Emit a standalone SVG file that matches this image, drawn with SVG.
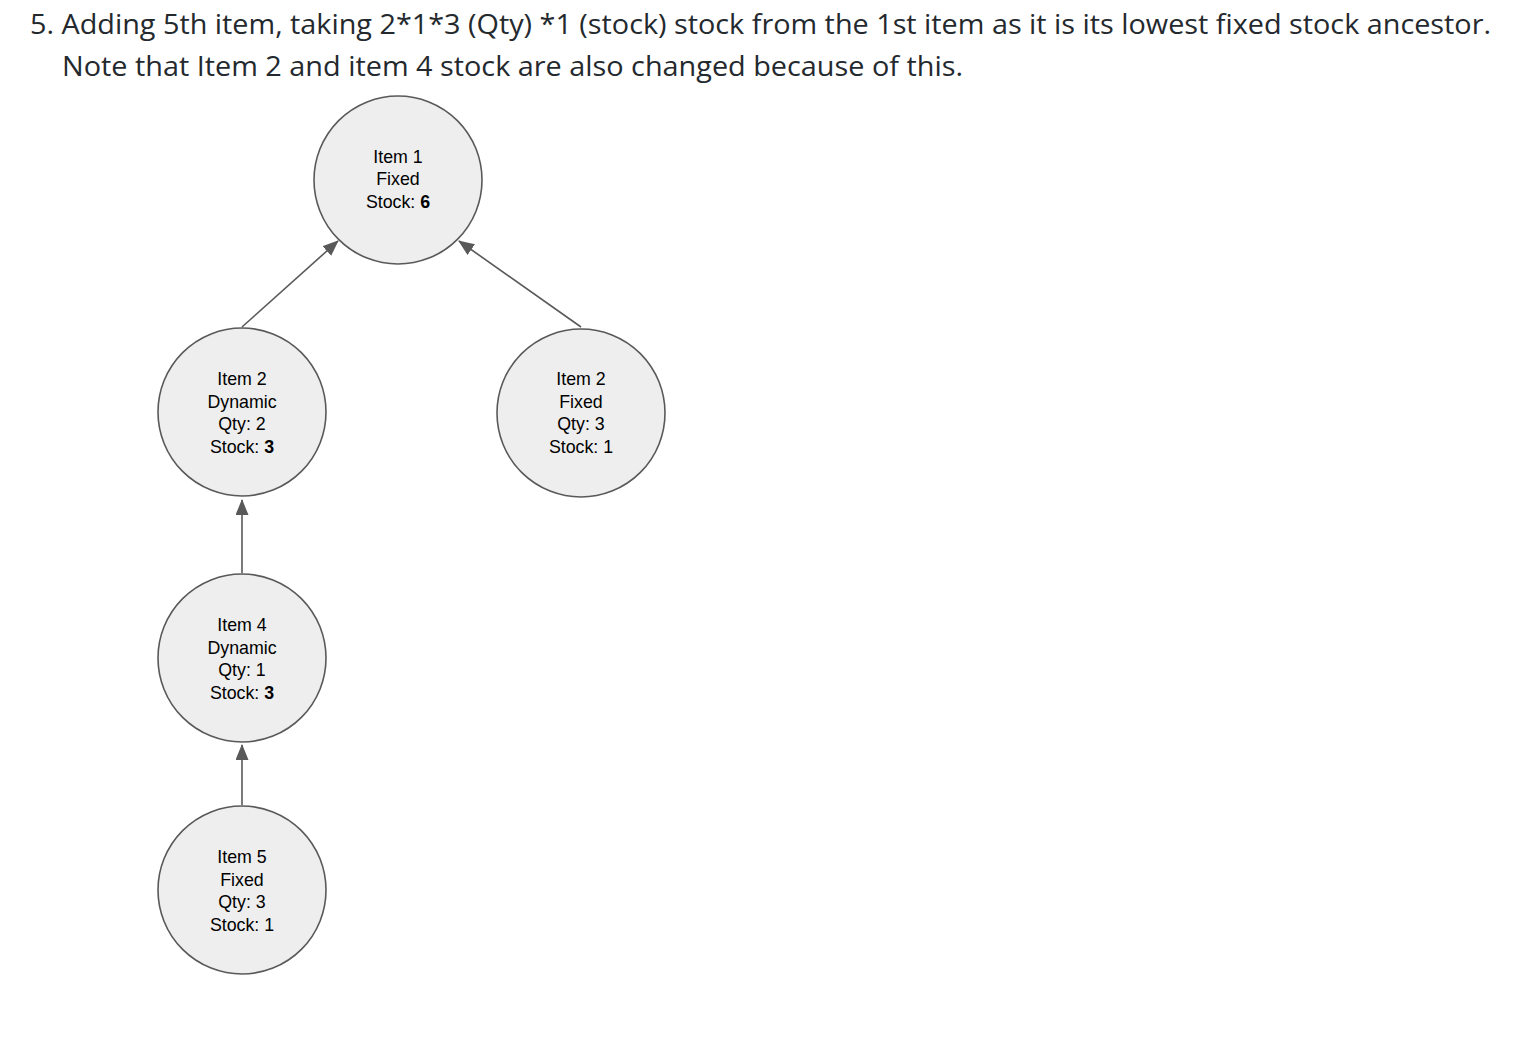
<svg xmlns="http://www.w3.org/2000/svg" width="1524" height="1052" viewBox="0 0 1524 1052">
<style>
.title{font-family:"Open Sans",sans-serif;font-size:27px;fill:#24292e}
.node circle{fill:#eeeeee;stroke:#595959;stroke-width:1.6}
.node text{font-family:"Liberation Sans",Arial,sans-serif;font-size:17.8px;fill:#000;text-anchor:middle}
.b{font-weight:bold}
.edge{stroke:#595959;stroke-width:1.6;fill:none;marker-end:url(#arr)}
</style>
<defs>
<marker id="arr" viewBox="0 0 16 13" refX="15" refY="6.5" markerWidth="16" markerHeight="13" markerUnits="userSpaceOnUse" orient="auto">
<path d="M0,0 L16,6.5 L0,13 Z" fill="#595959"/>
</marker>
</defs>
<rect width="1524" height="1052" fill="#fff"/>
<text class="title" x="30" y="34" textLength="1461" lengthAdjust="spacingAndGlyphs">5. Adding 5th item, taking 2*1*3 (Qty) *1 (stock) stock from the 1st item as it is its lowest fixed stock ancestor.</text>
<text class="title" x="62" y="76" textLength="901" lengthAdjust="spacingAndGlyphs">Note that Item 2 and item 4 stock are also changed because of this.</text>
<g id="connectors">
<line class="edge" x1="242" y1="327" x2="338" y2="241"/>
<line class="edge" x1="581" y1="327" x2="459" y2="241"/>
<line class="edge" x1="242" y1="573" x2="242" y2="500"/>
<line class="edge" x1="242" y1="805" x2="242" y2="745"/>
</g>
<g id="item1" class="node">
<circle cx="398" cy="180" r="84"/>
<text x="398" y="163">Item 1</text>
<text x="398" y="185">Fixed</text>
<text x="398" y="208">Stock: <tspan class="b">6</tspan></text>
</g>
<g id="item2-dynamic" class="node">
<circle cx="242" cy="412" r="84"/>
<text x="242" y="385">Item 2</text>
<text x="242" y="408">Dynamic</text>
<text x="242" y="430">Qty: 2</text>
<text x="242" y="453">Stock: <tspan class="b">3</tspan></text>
</g>
<g id="item2-fixed" class="node">
<circle cx="581" cy="413" r="84"/>
<text x="581" y="385">Item 2</text>
<text x="581" y="408">Fixed</text>
<text x="581" y="430">Qty: 3</text>
<text x="581" y="453">Stock: 1</text>
</g>
<g id="item4" class="node">
<circle cx="242" cy="658" r="84"/>
<text x="242" y="631">Item 4</text>
<text x="242" y="654">Dynamic</text>
<text x="242" y="676">Qty: 1</text>
<text x="242" y="699">Stock: <tspan class="b">3</tspan></text>
</g>
<g id="item5" class="node">
<circle cx="242" cy="890" r="84"/>
<text x="242" y="863">Item 5</text>
<text x="242" y="886">Fixed</text>
<text x="242" y="908">Qty: 3</text>
<text x="242" y="931">Stock: 1</text>
</g>
</svg>
